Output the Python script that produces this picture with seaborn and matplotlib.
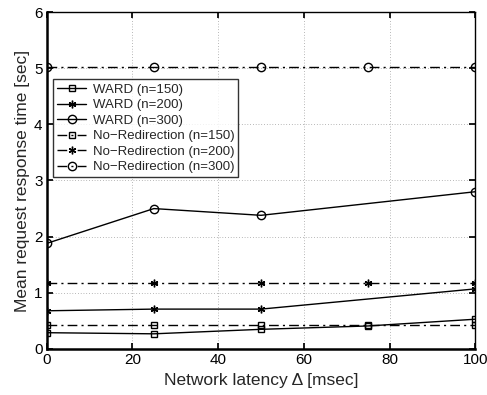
import matplotlib
matplotlib.use("Agg")
import matplotlib.pyplot as plt
from matplotlib.markers import MarkerStyle
import seaborn as sns
import pandas as pd

# Network latency (msec) at which each configuration was measured
latency_ward_150 = [0, 25, 50, 75, 100]
latency_ward_200 = [0, 25, 50, 100]
latency_ward_300 = [0, 25, 50, 100]
latency_noredir = [0, 25, 50, 75, 100]

# Mean request response time (sec)
ward_150 = [0.29, 0.27, 0.35, 0.41, 0.53]
ward_200 = [0.68, 0.71, 0.71, 1.07]
ward_300 = [1.88, 2.50, 2.38, 2.80]
noredir_150 = [0.42, 0.42, 0.42, 0.42, 0.42]
noredir_200 = [1.17, 1.17, 1.17, 1.17, 1.17]
noredir_300 = [5.02, 5.02, 5.02, 5.02, 5.02]

labels = ["WARD (n=150)", "WARD (n=200)", "WARD (n=300)",
          "No\u2212Redirection (n=150)", "No\u2212Redirection (n=200)",
          "No\u2212Redirection (n=300)"]

sns.set_theme(style="white")
plt.rcParams["font.family"] = ["Liberation Sans", "DejaVu Sans"]

fig = plt.figure(figsize=(4.87, 3.95), dpi=100)
ax = fig.add_axes([0.0959, 0.1165, 0.8801, 0.8531])

asterisk = MarkerStyle((6, 2, 0))
series = [
    (latency_ward_150, ward_150, "s", "-"),
    (latency_ward_200, ward_200, asterisk, "-"),
    (latency_ward_300, ward_300, "o", "-"),
    (latency_noredir, noredir_150, "s", "-."),
    (latency_noredir, noredir_200, asterisk, "-."),
    (latency_noredir, noredir_300, "o", "-."),
]

for (xs, ys, mk, ls), lab in zip(series, labels):
    df = pd.DataFrame({"x": xs, "y": ys})
    size = 3.8 if mk == "s" else (6 if mk == "o" else 5.5)
    sns.lineplot(data=df, x="x", y="y", ax=ax, color="black",
                 linewidth=1.0, marker=mk, markersize=size,
                 markerfacecolor="none", markeredgecolor="black",
                 markeredgewidth=1.0, label=lab)
    ln = ax.get_lines()[-1]
    ln.set_linestyle(ls)
    if ls == "-.":
        ln.set_dashes((7, 3, 1.5, 3))

ax.set_xlim(0, 100)
ax.set_ylim(0, 6)
ax.set_xticks([0, 20, 40, 60, 80, 100])
ax.set_yticks([0, 1, 2, 3, 4, 5, 6])
ax.grid(True, color="#777777", linestyle=(0, (1, 3)), linewidth=0.5)
ax.tick_params(axis="both", direction="in", length=4, labelsize=11,
               color="black", labelcolor="black", pad=3)
ax.tick_params(top=True, right=True, bottom=True, left=True)

for side, sp in ax.spines.items():
    sp.set_color("black")
    sp.set_visible(True)
    sp.set_linewidth(1.8 if side in ("left", "bottom") else 1.0)

ax.set_xlabel("Network latency \u0394 [msec]", fontsize=12.5, labelpad=4)
ax.set_ylabel("Mean request response time [sec]", fontsize=12.5, labelpad=3)

leg = ax.legend(loc="upper left", bbox_to_anchor=(0.015, 0.80),
                fontsize=9.5, frameon=True, fancybox=False,
                handlelength=2.2, handletextpad=0.5, borderpad=0.3,
                labelspacing=0.25, borderaxespad=0)
leg.get_frame().set_edgecolor("black")
leg.get_frame().set_linewidth(1.0)

fig.savefig("out.png", dpi=100)
